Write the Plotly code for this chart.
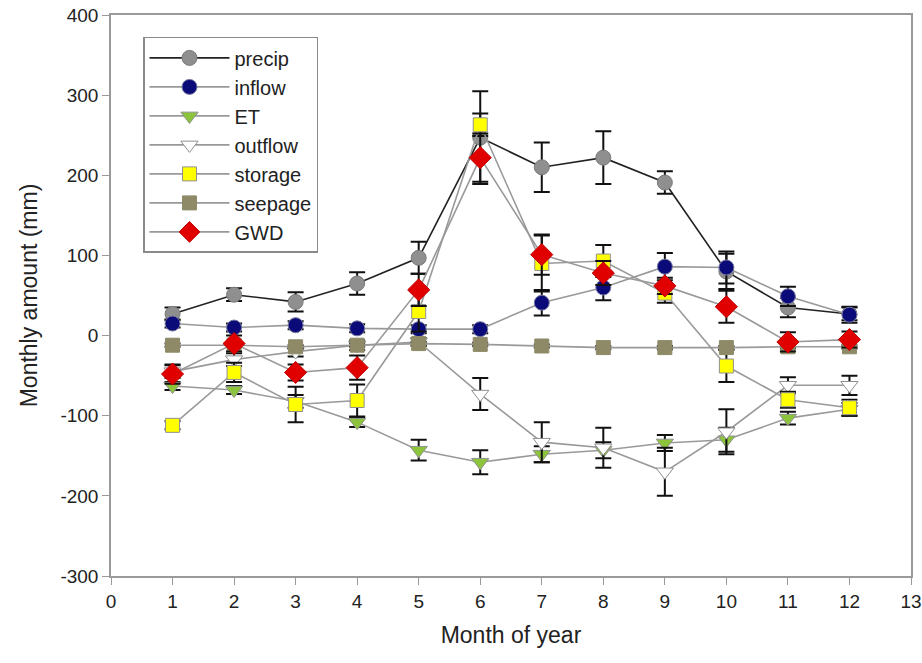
import plotly.graph_objects as go

# Monthly water budget components (mm), mean and error per month
months = list(range(1, 13))

precip = [27, 51, 42, 65, 97, 247, 210, 222, 191, 80, 35, 27]
precip_err = [8, 8, 12, 14, 20, 58, 31, 33, 14, 22, 12, 8]

inflow = [15, 10, 13, 9, 8, 8, 41, 60, 86, 85, 49, 26]
inflow_err = [5, 5, 5, 5, 5, 5, 16, 16, 17, 20, 12, 10]

et = [-63, -68, -82, -108, -143, -158, -148, -143, -134, -130, -103, -92]
et_err = [5, 5, 8, 6, 13, 15, 10, 10, 10, 15, 8, 8]

outflow = [-45, -30, -20, -12, -8, -73, -133, -140, -170, -120, -62, -62]
outflow_err = [8, 8, 6, 6, 5, 20, 25, 25, 30, 28, 10, 12]

storage = [-112, -46, -86, -81, 30, 263, 90, 93, 53, -38, -80, -90]
storage_err = [5, 12, 22, 20, 25, 14, 35, 20, 12, 20, 10, 10]

seepage = [-12, -12, -14, -12, -10, -11, -13, -15, -15, -15, -14, -14]
seepage_err = [2, 2, 2, 2, 2, 2, 2, 2, 2, 2, 2, 2]

gwd = [-48, -10, -46, -40, 57, 222, 101, 78, 62, 36, -8, -5]
gwd_err = [12, 10, 10, 15, 20, 30, 25, 15, 10, 20, 12, 10]

x_ticks = list(range(0, 14))
y_ticks = [-300, -200, -100, 0, 100, 200, 300, 400]

series = [
    ("precip", precip, precip_err, "circle", 15, "#8f8f8f", "#7a7a7a", "#222222"),
    ("inflow", inflow, inflow_err, "circle", 15, "#0a0a78", "#7a7aa0", "#999999"),
    ("ET", et, et_err, "triangle-down", 15, "#8cc43c", "#909090", "#999999"),
    ("outflow", outflow, outflow_err, "triangle-down", 15, "#ffffff", "#909090", "#999999"),
    ("storage", storage, storage_err, "square", 14, "#ffff00", "#909090", "#999999"),
    ("seepage", seepage, seepage_err, "square", 14, "#8e8a68", "#8e8a68", "#999999"),
    ("GWD", gwd, gwd_err, "diamond", 17, "#e00000", "#c00000", "#999999"),
]

fig = go.Figure()
for name, y, err, sym, size, fill, edge, line_col in series:
    fig.add_trace(go.Scatter(
        x=months, y=y, name=name, mode="lines+markers",
        line=dict(color=line_col, width=1.6),
        marker=dict(symbol=sym, size=size, color=fill, line=dict(color=edge, width=1)),
        error_y=dict(type="data", array=err, visible=True, color="#111111",
                     thickness=2, width=8),
    ))

font_family = "Liberation Sans, Arial, sans-serif"

fig.update_layout(
    width=922, height=663,
    margin=dict(l=111, r=11, t=15, b=87),
    paper_bgcolor="white", plot_bgcolor="white",
    font=dict(family=font_family, size=19, color="#222222"),
    showlegend=True,
    legend=dict(
        x=0.04, y=0.961, xanchor="left", yanchor="top",
        bgcolor="white", bordercolor="#8a8a8a", borderwidth=1.5,
        font=dict(family=font_family, size=20, color="#222222"),
        itemsizing="trace", itemwidth=80, tracegroupgap=0,
    ),
    xaxis=dict(
        range=[0, 13], tickmode="array", tickvals=x_ticks,
        ticktext=[str(v) for v in x_ticks],
        showgrid=False, zeroline=False, automargin=False,
        ticklabeloverflow="allow",
        showline=True, linecolor="#9a9a9a", linewidth=1.5, mirror=True,
        ticks="outside", ticklen=7, tickcolor="#9a9a9a",
        title=dict(text="Month of year", font=dict(size=23), standoff=16),
    ),
    yaxis=dict(
        range=[-300, 400], tickmode="array", tickvals=y_ticks,
        ticktext=[str(v) for v in y_ticks],
        showgrid=False, zeroline=False, automargin=False,
        ticklabeloverflow="allow",
        showline=True, linecolor="#9a9a9a", linewidth=1.5, mirror=True,
        ticks="outside", ticklen=7, tickcolor="#9a9a9a",
        title=dict(text="Monthly amount (mm)", font=dict(size=23), standoff=16),
    ),
)

# drop the default 8px page margin so the figure fills the window
fig.write_html("out.html", config={"displayModeBar": False},
               post_script="document.body.style.margin='0';")
